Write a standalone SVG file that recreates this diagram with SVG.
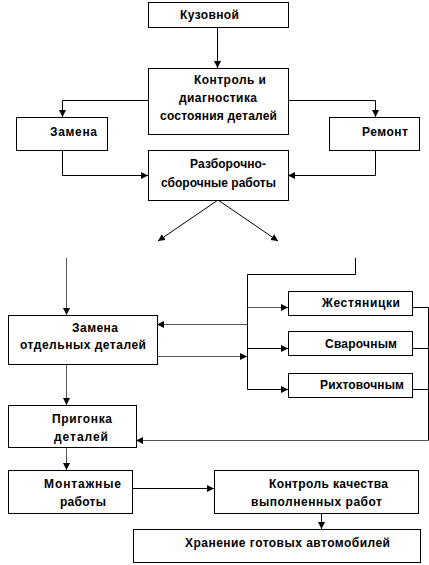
<svg xmlns="http://www.w3.org/2000/svg" width="429" height="565" viewBox="0 0 429 565">
<defs>
<marker id="ah" markerUnits="userSpaceOnUse" markerWidth="8" markerHeight="8" refX="7" refY="3.5" orient="auto">
<path d="M0,0 L7,3.5 L0,7 Z" fill="#000"/>
</marker>
<style>
.box{fill:#fff;stroke:#000;stroke-width:1}
.t{font-family:"Liberation Sans",Arial,sans-serif;font-weight:bold;font-size:12px;fill:#000}
.c{fill:none;stroke:#000;stroke-width:1}
.g{stroke:#555}
.a{marker-end:url(#ah)}
</style>
</defs>
<rect width="429" height="565" fill="#fff"/>
<g id="connectors">
<path class="c a" d="M217.5,27 V68"/>
<path class="c a" d="M148,100.5 H62.5 V117"/>
<path class="c a" d="M288,100.5 H375.5 V117"/>
<path class="c a" d="M62.5,150 V175.5 H148"/>
<path class="c a" d="M375.5,150 V175.5 H288"/>
<path class="c a" d="M218,200 L158,241"/>
<path class="c a" d="M218,200 L278,241"/>
<path class="c g a" d="M66.5,258 V315"/>
<path class="c" d="M355.5,258 V274.5 H247.5 V389.5"/>
<path class="c g a" d="M247.5,307.5 H288"/>
<path class="c a" d="M247.5,348.5 H288"/>
<path class="c a" d="M247.5,389.5 H288"/>
<path class="c g a" d="M247.5,324.5 H157"/>
<path class="c g a" d="M157,356.5 H247"/>
<path class="c" d="M412,307.5 H428.5 V440.5"/>
<path class="c" d="M412,348.5 H428.5"/>
<path class="c" d="M412,389.5 H428.5"/>
<path class="c g a" d="M428.5,440.5 H136"/>
<path class="c g a" d="M66.5,364 V405"/>
<path class="c g a" d="M66.5,447 V470"/>
<path class="c a" d="M132,488.5 H214"/>
<path class="c a" d="M321.5,513 V529"/>
</g>
<g id="n1"><rect class="box" x="148.5" y="2.5" width="140" height="25"/><text class="t" x="180" y="19" textLength="59">Кузовной</text></g>
<g id="n2"><rect class="box" x="148.5" y="68.5" width="140" height="66"/>
<text class="t" x="194" y="84" textLength="72">Контроль и</text>
<text class="t" x="179" y="102" textLength="78">диагностика</text>
<text class="t" x="160" y="120" textLength="117">состояния деталей</text></g>
<g id="n3"><rect class="box" x="16.5" y="117.5" width="91" height="33"/><text class="t" x="50" y="136" textLength="47">Замена</text></g>
<g id="n4"><rect class="box" x="329.5" y="117.5" width="90" height="33"/><text class="t" x="362" y="136" textLength="46">Ремонт</text></g>
<g id="n5"><rect class="box" x="148.5" y="150.5" width="140" height="50"/>
<text class="t" x="190" y="168" textLength="76">Разборочно-</text>
<text class="t" x="161" y="187" textLength="115">сборочные работы</text></g>
<g id="n6"><rect class="box" x="8.5" y="315.5" width="149" height="49"/>
<text class="t" x="72" y="332" textLength="46">Замена</text>
<text class="t" x="20" y="349" textLength="126">отдельных деталей</text></g>
<g id="n7"><rect class="box" x="288.5" y="291.5" width="124" height="24"/><text class="t" x="322" y="307" textLength="78">Жестяницки</text></g>
<g id="n8"><rect class="box" x="288.5" y="331.5" width="124" height="24"/><text class="t" x="325" y="348" textLength="72">Сварочным</text></g>
<g id="n9"><rect class="box" x="288.5" y="373.5" width="124" height="24"/><text class="t" x="320" y="389" textLength="84">Рихтовочным</text></g>
<g id="n10"><rect class="box" x="8.5" y="405.5" width="128" height="42"/>
<text class="t" x="52" y="423" textLength="60">Пригонка</text>
<text class="t" x="54" y="441" textLength="54">деталей</text></g>
<g id="n11"><rect class="box" x="8.5" y="470.5" width="124" height="43"/>
<text class="t" x="44" y="488" textLength="77">Монтажные</text>
<text class="t" x="60" y="506" textLength="46">работы</text></g>
<g id="n12"><rect class="box" x="214.5" y="470.5" width="204" height="43"/>
<text class="t" x="269" y="488" textLength="119">Контроль качества</text>
<text class="t" x="251" y="506" textLength="131">выполненных работ</text></g>
<g id="n13"><rect class="box" x="133.5" y="529.5" width="287" height="33"/>
<text class="t" x="185" y="547" textLength="205">Хранение готовых автомобилей</text></g>
</svg>
